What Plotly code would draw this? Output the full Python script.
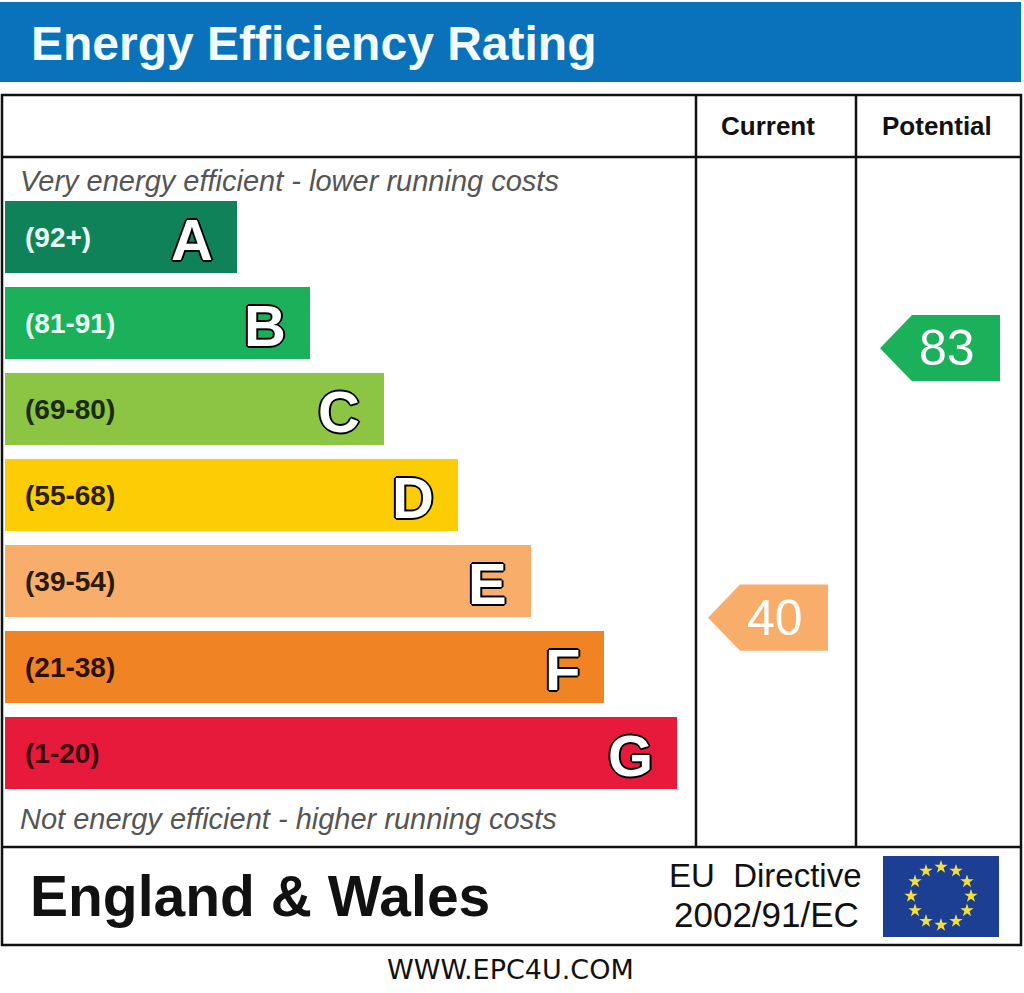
import math

import plotly.graph_objects as go

# Figure size in pixels
W, H = 1024, 993

# Band data
bands = ['A', 'B', 'C', 'D', 'E', 'F', 'G']
band_ranges = ['(92+)', '(81-91)', '(69-80)', '(55-68)', '(39-54)', '(21-38)', '(1-20)']
band_low = [92, 81, 69, 55, 39, 21, 1]
band_high = [100, 91, 80, 68, 54, 38, 20]
band_lengths = [232, 305, 379, 453, 526, 599, 672]
band_colors = ['#0f8259', '#1bb15a', '#8cc443', '#fccd05', '#f9ad6b', '#f08324', '#e71a3b']
range_colors = ['#e8fff4', '#e8fff4', '#1b2a0a', '#2a2000', '#2a1a0a', '#2a1000', '#3a0810']

# Ratings
current_rating = 40
potential_rating = 83

# Layout helpers: x axis in pixels, y axis in band-pitch units
BAND0_PX = 237
PITCH = 86


def band_y(px):
    return (px - BAND0_PX) / PITCH


def paper_y(px):
    return 1 - px / H


def rating_y(value):
    """Position of a rating inside its band (band units)"""
    for i, (lo, hi) in enumerate(zip(band_low, band_high)):
        if lo <= value <= hi:
            frac = (value - lo + 0.5) / (hi - lo + 1)
            return i, i + 0.5 - frac
    return len(bands) - 1, len(bands) - 1


def arrow_path(tip, right, yc, half=0.385, notch=32):
    return (f"M {tip},{yc} L {tip + notch},{yc - half} L {right},{yc - half} "
            f"L {right},{yc + half} L {tip + notch},{yc + half} Z")


def label(text, x, y_px, size, color='#111', xanchor='center', family='Liberation Sans', **kw):
    return dict(text=text, x=x, y=paper_y(y_px), xref='x', yref='paper',
                xanchor=xanchor, yanchor='middle', showarrow=False,
                font=dict(family=family, size=size, color=color, **kw))


fig = go.Figure()

fig.add_trace(go.Bar(
    orientation='h', y=list(range(len(bands))), x=band_lengths, base=5,
    width=72 / PITCH, marker=dict(color=band_colors, line=dict(width=0)),
    hoverinfo='skip', showlegend=False
))

shapes = []
annotations = []

# Title bar
shapes.append(dict(type='rect', xref='x', yref='paper', x0=0, x1=1021,
                   y0=paper_y(82), y1=paper_y(2), fillcolor='#0a72bb', line_width=0, layer='below'))
annotations.append(label('<b>Energy Efficiency Rating</b>', 29, 43, 48, color='#f4fbff', xanchor='left'))

# Frame
line = dict(color='#111', width=2.5)
shapes.append(dict(type='rect', xref='x', yref='paper', x0=2, x1=1021,
                   y0=paper_y(945), y1=paper_y(95), line=line))
for yy in (157, 847):
    shapes.append(dict(type='line', xref='x', yref='paper', x0=2, x1=1021,
                       y0=paper_y(yy), y1=paper_y(yy), line=line))
for xx in (696, 856):
    shapes.append(dict(type='line', xref='x', yref='paper', x0=xx, x1=xx,
                       y0=paper_y(847), y1=paper_y(95), line=line))

# Column headers
annotations.append(label('<b>Current</b>', 768, 126, 26))
annotations.append(label('<b>Potential</b>', 937, 126, 26))

# Top / bottom captions
annotations.append(label('<i>Very energy efficient - lower running costs</i>', 18, 181, 29,
                         color='#555', xanchor='left'))
annotations.append(label('<i>Not energy efficient - higher running costs</i>', 18, 819, 29,
                         color='#555', xanchor='left'))

# Band labels and letters
outline = ('2px 0 0 #000, -2px 0 0 #000, 0 2px 0 #000, 0 -2px 0 #000, '
           '1px 1px 0 #000, -1px -1px 0 #000, 1px -1px 0 #000, -1px 1px 0 #000')
for i, band in enumerate(bands):
    annotations.append(dict(text=f'<b>{band_ranges[i]}</b>', x=23, y=i, xref='x', yref='y',
                            xanchor='left', showarrow=False,
                            font=dict(family='Liberation Sans', size=28, color=range_colors[i])))
    annotations.append(dict(text=f'<b>{band}</b>', x=5 + band_lengths[i] - 22, y=i + 0.03, xref='x', yref='y',
                            xanchor='right', showarrow=False,
                            font=dict(family='Liberation Sans', size=58, color='white', shadow=outline)))

# Rating arrows
for value, tip, right in ((current_rating, 708, 828), (potential_rating, 880, 1000)):
    idx, yc = rating_y(value)
    shapes.append(dict(type='path', xref='x', yref='y', path=arrow_path(tip, right, yc + 0.02),
                       fillcolor=band_colors[idx], line_width=0))
    annotations.append(dict(text=str(value), x=(tip + 32 + right) / 2 - 9, y=yc + 0.02, xref='x', yref='y',
                            showarrow=False, font=dict(family='Liberation Sans', size=50, color='white')))

# Footer
annotations.append(label('<b>England & Wales</b>', 28, 896, 57, xanchor='left'))
annotations.append(label('EU  Directive', 765, 875, 33))
annotations.append(label('2002/91/EC', 766, 914, 35))
annotations.append(label('WWW.EPC4U.COM', 510, 969, 27, family='DejaVu Sans'))

# EU flag
shapes.append(dict(type='rect', xref='x', yref='paper', x0=883, x1=999,
                   y0=paper_y(937), y1=paper_y(856), fillcolor='#1c3f94', line_width=0, layer='below'))
star_x = [941 + 30 * math.cos(k * math.pi / 6) for k in range(12)]
star_y = [band_y(896 + 29 * math.sin(k * math.pi / 6)) for k in range(12)]
fig.add_trace(go.Scatter(
    x=star_x, y=star_y, mode='markers', hoverinfo='skip', showlegend=False,
    marker=dict(symbol='star', size=10, color='#f5e03a', line_width=0)
))

fig.update_layout(
    width=W, height=H, margin=dict(l=0, r=0, t=0, b=0),
    paper_bgcolor='white', plot_bgcolor='white',
    xaxis=dict(range=[0, W], visible=False, fixedrange=True),
    yaxis=dict(range=[band_y(H), band_y(0)], visible=False, fixedrange=True),
    shapes=shapes, annotations=annotations, bargap=0
)

fig.write_html("out.html", config={'displayModeBar': False},
               post_script="document.body.style.margin='0';")
